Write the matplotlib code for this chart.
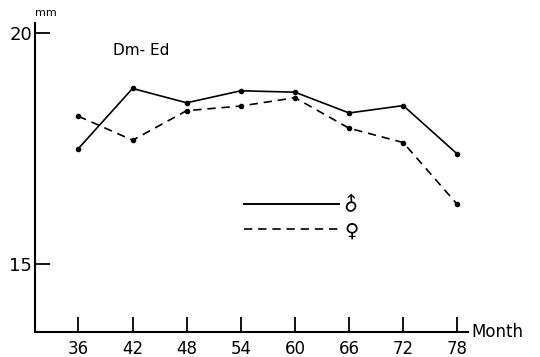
import matplotlib
matplotlib.use("Agg")
import matplotlib.pyplot as plt

months = [36, 42, 48, 54, 60, 66, 72, 78]
male = [17.50, 18.80, 18.49, 18.75, 18.72, 18.27, 18.43, 17.38]
female = [18.20, 17.68, 18.32, 18.42, 18.60, 17.94, 17.63, 16.29]
y_ticks = [15, 20]

fig = plt.figure(figsize=(5.4, 3.57), dpi=100)
ax = fig.add_axes([0.065, 0.07, 0.802, 0.866])

ax.plot(months, male, color="black", lw=1.2, marker="o", ms=3)
ax.plot(months, female, color="black", lw=1.2, ls=(0, (5, 3.5)), marker="o", ms=3)

ax.set_xlim(31.2, 79.2)
ax.set_ylim(13.53, 20.22)
ax.set_xticks(months)
ax.set_yticks(y_ticks)
ax.tick_params(axis="both", direction="in", length=11, width=1.3, labelsize=12)
ax.tick_params(axis="x", pad=6)
ax.tick_params(axis="y", pad=2, labelsize=13)

for s in ["top", "right"]:
    ax.spines[s].set_visible(False)
for s in ["left", "bottom"]:
    ax.spines[s].set_linewidth(1.5)

# legend drawn by hand, as in the original figure
ax.plot([54.3, 64.9], [16.30, 16.30], color="black", lw=1.4)
ax.plot([54.3, 64.9], [15.76, 15.76], color="black", lw=1.2, ls=(0, (5, 3.5)))
ax.text(66.3, 16.30, "\u2642", fontsize=14, ha="center", va="center", rotation=45)
ax.text(66.3, 15.72, "\u2640", fontsize=14, ha="center", va="center")

fig.text(0.21, 0.845, "Dm- Ed", fontsize=11)
fig.text(0.065, 0.955, "mm", fontsize=8)
fig.text(0.872, 0.07, "Month", fontsize=12, va="center")

fig.savefig("out.png", dpi=100)
